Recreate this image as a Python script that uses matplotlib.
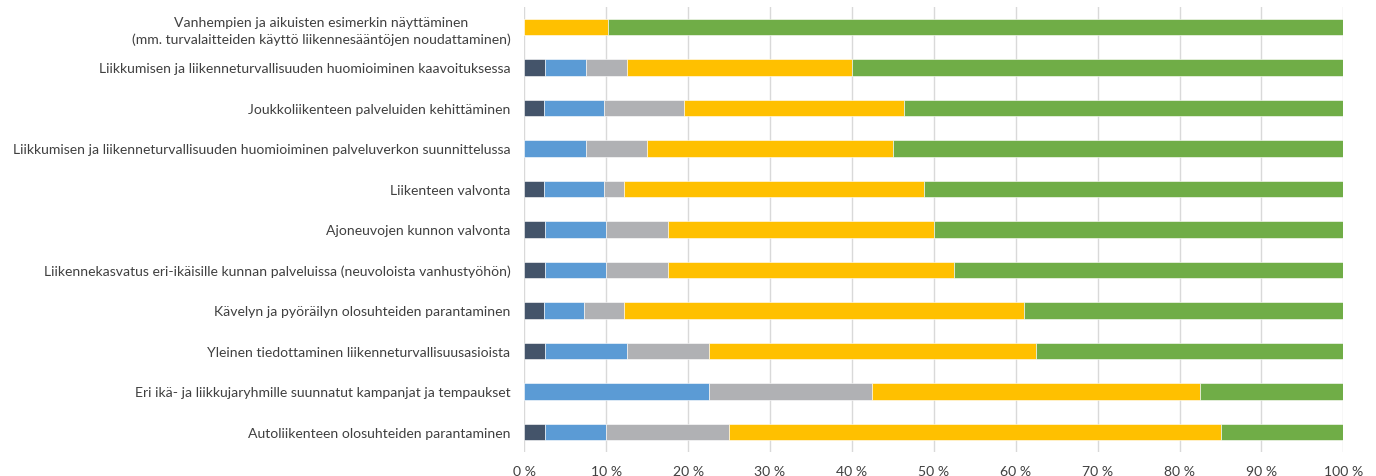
import matplotlib
matplotlib.use("Agg")
import matplotlib.pyplot as plt
import numpy as np

categories = [
    "Vanhempien ja aikuisten esimerkin näyttäminen\n(mm. turvalaitteiden käyttö liikennesääntöjen noudattaminen)",
    "Liikkumisen ja liikenneturvallisuuden huomioiminen kaavoituksessa",
    "Joukkoliikenteen palveluiden kehittäminen",
    "Liikkumisen ja liikenneturvallisuuden huomioiminen palveluverkon suunnittelussa",
    "Liikenteen valvonta",
    "Ajoneuvojen kunnon valvonta",
    "Liikennekasvatus eri-ikäisille kunnan palveluissa (neuvoloista vanhustyöhön)",
    "Kävelyn ja pyöräilyn olosuhteiden parantaminen",
    "Yleinen tiedottaminen liikenneturvallisuusasioista",
    "Eri ikä- ja liikkujaryhmille suunnatut kampanjat ja tempaukset",
    "Autoliikenteen olosuhteiden parantaminen",
]

# shares in percent, one list per segment (left to right)
s1 = [0.0, 2.5, 2.44, 0.0, 2.44, 2.5, 2.5, 2.44, 2.5, 0.0, 2.5]
s2 = [0.0, 5.0, 7.32, 7.5, 7.32, 7.5, 7.5, 4.88, 10.0, 22.5, 7.5]
s3 = [0.0, 5.0, 9.76, 7.5, 2.44, 7.5, 7.5, 4.88, 10.0, 20.0, 15.0]
s4 = [10.26, 27.5, 26.83, 30.0, 36.58, 32.5, 35.0, 48.78, 40.0, 40.0, 60.0]
s5 = [89.74, 60.0, 53.65, 55.0, 51.22, 50.0, 47.5, 39.02, 37.5, 17.5, 15.0]

colors = ["#44546A", "#5B9BD5", "#B0B1B4", "#FFC000", "#70AD47"]

plt.rcParams["font.family"] = ["Lato", "DejaVu Sans"]

fig = plt.figure(figsize=(13.76, 4.77), dpi=100)
ax = fig.add_axes([0.381, 0.0498, 0.9763 - 0.381, 0.9838 - 0.0498])

y = np.arange(len(categories))
left = np.zeros(len(categories))
for vals, c in zip([s1, s2, s3, s4, s5], colors):
    vals = np.array(vals)
    ax.barh(y, vals, left=left, height=0.4, color=c, edgecolor="white",
            linewidth=0.4, zorder=3)
    left += vals

ax.set_xlim(0, 100)
ax.set_ylim(len(categories) - 0.5, -0.5)
ax.set_yticks(y)
ax.set_yticklabels(categories, fontsize=10.1, color="#404040")
for lbl in ax.get_yticklabels():
    lbl.set_multialignment("center")
    lbl.set_linespacing(1.45)
ax.set_xticks(np.arange(0, 101, 10))
ax.set_xticklabels([f"{v} %" for v in range(0, 101, 10)], fontsize=10.1, color="#404040")
ax.tick_params(axis="both", length=0)
ax.tick_params(axis="y", pad=10)
ax.tick_params(axis="x", pad=9)
ax.grid(axis="x", color="#D9D9D9", linewidth=1, zorder=0)
for sp in ax.spines.values():
    sp.set_visible(False)

fig.savefig("out.png", dpi=100)
